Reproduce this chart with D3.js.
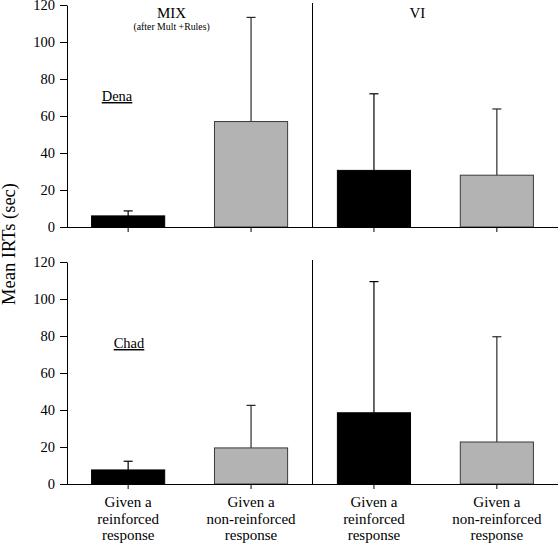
<!DOCTYPE html>
<html>
<head>
<meta charset="utf-8">
<script src="https://cdn.jsdelivr.net/npm/d3@7"></script>
<style>
  html, body { margin: 0; padding: 0; background: #fff; }
  svg { display: block; }
  svg text { font-family: "Liberation Serif", "Times New Roman", serif !important; }
</style>
</head>
<body>
<svg id="chart" width="558" height="544"></svg>
<script>
// ---- data ----
const categories = ["MIX-reinforced", "MIX-nonreinforced", "VI-reinforced", "VI-nonreinforced"];
const categoryLabels = [
  ["Given a", "reinforced", "response"],
  ["Given a", "non-reinforced", "response"],
  ["Given a", "reinforced", "response"],
  ["Given a", "non-reinforced", "response"]
];
const barKinds = ["black", "gray", "black", "gray"];
const subjects = ["Dena", "Chad"];
const denaMeans = [6, 57, 30.6, 28];
const denaErrTops = [8.7, 113.3, 72, 63.8];
const chadMeans = [7.6, 19.5, 38.5, 22.7];
const chadErrTops = [12.3, 42.5, 109.4, 79.6];
const yTicks = [0, 20, 40, 60, 80, 100, 120];
const conditionLabels = ["MIX", "VI"];
const mixSubtitle = "(after Mult +Rules)";
const yAxisTitle = "Mean IRTs (sec)";

// ---- layout ----
const svg = d3.select("#chart");
const xLeft = 67, xRight = 558;
const panels = [
  { name: subjects[0], means: denaMeans, errs: denaErrTops, y0: 227, y1: 5, labelX: 117, labelY: 101, dividerTop: 3 },
  { name: subjects[1], means: chadMeans, errs: chadErrTops, y0: 484, y1: 262, labelX: 129, labelY: 348, dividerTop: 260 }
];

const x = d3.scaleBand().domain(categories).range([xLeft, xRight]).paddingInner(0.405).paddingOuter(0.2);
const fills = { black: "#000000", gray: "#b3b3b3" };
const strokes = { black: "#000000", gray: "#3a3a3a" };

panels.forEach((p, pi) => {
  const y = d3.scaleLinear().domain([0, 120]).range([p.y0, p.y1]);
  const g = svg.append("g");

  // y axis
  const yAxis = d3.axisLeft(y).tickValues(yTicks).tickSize(7).tickPadding(5).tickSizeOuter(0);
  const ya = g.append("g").attr("transform", `translate(${xLeft},0)`).call(yAxis)
    .attr("font-family", null).attr("font-size", null);
  ya.select(".domain").attr("stroke", "#000").attr("stroke-width", 1);
  ya.selectAll(".tick line").attr("stroke", "#000");
  ya.selectAll(".tick text").attr("font-size", 14.5).attr("fill", "#000");

  // divider between conditions
  const divX = (x(categories[1]) + x.bandwidth() + x(categories[2])) / 2;
  g.append("line").attr("x1", divX).attr("x2", divX)
    .attr("y1", p.dividerTop).attr("y2", p.y0)
    .attr("stroke", "#000").attr("stroke-width", 1);

  // error bars (upward only)
  categories.forEach((c, i) => {
    const cx = x(c) + x.bandwidth() / 2;
    const col = barKinds[i] === "gray" ? "#2a2a2a" : "#000";
    g.append("line").attr("x1", cx).attr("x2", cx)
      .attr("y1", y(p.means[i])).attr("y2", y(p.errs[i]))
      .attr("stroke", col).attr("stroke-width", 1.2);
    g.append("line").attr("x1", cx - 4.5).attr("x2", cx + 4.5)
      .attr("y1", y(p.errs[i])).attr("y2", y(p.errs[i]))
      .attr("stroke", col).attr("stroke-width", 1.2);
  });

  // bars
  g.selectAll("rect.bar").data(categories).enter().append("rect")
    .attr("class", "bar")
    .attr("x", c => x(c))
    .attr("width", x.bandwidth())
    .attr("y", (c, i) => y(p.means[i]))
    .attr("height", (c, i) => y(0) - y(p.means[i]))
    .attr("fill", (c, i) => fills[barKinds[i]])
    .attr("stroke", (c, i) => strokes[barKinds[i]])
    .attr("stroke-width", 1);

  // x axis
  const xAxis = d3.axisBottom(x).tickSize(5).tickSizeOuter(0).tickFormat("");
  const xa = g.append("g").attr("transform", `translate(0,${p.y0})`).call(xAxis);
  xa.select(".domain").attr("stroke", "#000").attr("stroke-width", 1)
    .attr("d", `M${xLeft},0.5H${xRight}`);
  xa.selectAll(".tick line").attr("stroke", "#000");

  // subject label (underlined)
  g.append("text").attr("x", p.labelX).attr("y", p.labelY)
    .attr("text-anchor", "middle").attr("font-size", 14.5)
    .attr("text-decoration", "underline").attr("fill", "#000")
    .text(p.name);

  if (pi === 0) {
    const c0 = (x(categories[0]) + x(categories[1]) + x.bandwidth()) / 2;
    const c1 = (x(categories[2]) + x(categories[3]) + x.bandwidth()) / 2;
    g.append("text").attr("x", c0 - 18).attr("y", 18).attr("text-anchor", "middle")
      .attr("font-size", 15).text(conditionLabels[0]);
    g.append("text").attr("x", c0 - 18).attr("y", 29.5).attr("text-anchor", "middle")
      .attr("font-size", 9.8).text(mixSubtitle);
    g.append("text").attr("x", c1 - 18).attr("y", 18).attr("text-anchor", "middle")
      .attr("font-size", 15).text(conditionLabels[1]);
  }
});

// category labels under bottom panel
categories.forEach((c, i) => {
  const cx = x(c) + x.bandwidth() / 2;
  const t = svg.append("text").attr("text-anchor", "middle").attr("font-size", 15).attr("fill", "#000");
  categoryLabels[i].forEach((line, k) => {
    t.append("tspan").attr("x", cx).attr("y", 507 + k * 16.5).text(line);
  });
});

// y axis title
svg.append("text")
  .attr("transform", "translate(15,244) rotate(-90)")
  .attr("text-anchor", "middle").attr("font-size", 18.5).attr("fill", "#000")
  .text(yAxisTitle);
</script>
</body>
</html>
